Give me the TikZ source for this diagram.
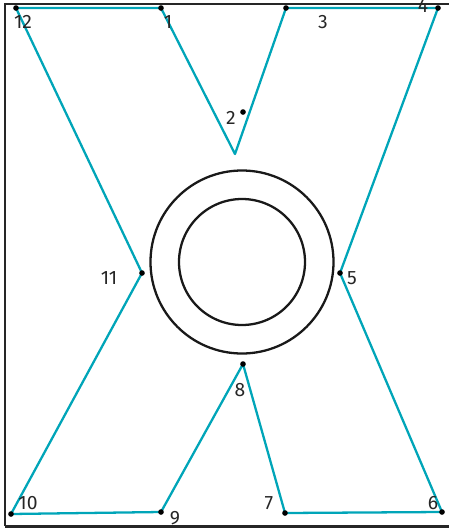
\documentclass[tikz,border=0pt]{standalone}
\usepackage{fontspec}
\setmainfont{Fira Sans}
\definecolor{xteal}{HTML}{00A5B8}
\begin{document}
\begin{tikzpicture}[x=0.02cm,y=-0.02cm,
    dot/.style={circle,fill=black,inner sep=0pt,minimum size=3.2pt},
    lab/.style={font=\fontsize{11}{13}\selectfont,inner sep=0pt,text=black!85},
    edge/.style={xteal,line width=1.3pt,line join=round}]
    \useasboundingbox (0,0) rectangle (449,528);
    % Vẽ khung
    \draw[black!85,line width=1.1pt] (5,526) -- (5,4) -- (449,4);
    \draw[black!85,line width=1.7pt] (5,526.5) -- (449,526.5);

    % Vẽ hai đường tròn
    \coordinate (o) at (242,262);
    \draw[black!90,line width=1.3pt] (o) circle (91.5);
    \draw[black!90,line width=1.3pt] (o) circle (63);

    % Các điểm
    \coordinate (p1) at (161,8);
    \coordinate (p2) at (243,112);
    \coordinate (p3) at (286,8);
    \coordinate (p4) at (438,8);
    \coordinate (p5) at (340,273);
    \coordinate (p6) at (442,512);
    \coordinate (p7) at (285,513);
    \coordinate (p8) at (243,364);
    \coordinate (p9) at (161,512);
    \coordinate (p10) at (11,514);
    \coordinate (p11) at (142,273);
    \coordinate (p12) at (16,8);
    \coordinate (v) at (235,154);

    % Vẽ đường gấp khúc
    \draw[edge] (p12) -- (p1) -- (v) -- (p3) -- (p4) -- (p5) -- (p6) -- (p7)
        -- (p8) -- (p9) -- (p10) -- (p11) -- cycle;

    % Chấm tại các điểm
    \foreach \i in {1,...,12}
    \node[dot] (d\i) at (p\i) {};

    % Đánh số các điểm
    \node[lab] (l1) at (168,22) {1};
    \node[lab] (l2) at (231,118) {2};
    \node[lab] (l3) at (323,22) {3};
    \node[lab] (l4) at (423,6) {4};
    \node[lab] (l5) at (352,278) {5};
    \node[lab] (l6) at (433,503) {6};
    \node[lab] (l7) at (269,503) {7};
    \node[lab] (l8) at (240,390) {8};
    \node[lab] (l9) at (175,518) {9};
    \node[lab] (l10) at (28,503) {10};
    \node[lab] (l11) at (109,278) {11};
    \node[lab] (l12) at (23,22) {12};
\end{tikzpicture}
\end{document}
